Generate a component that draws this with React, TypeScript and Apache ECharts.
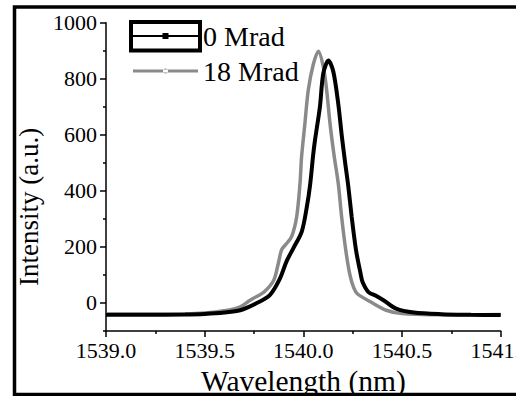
import React, { useEffect, useRef } from "react";
import * as echarts from "echarts";

const seriesNames = ["0 Mrad", "18 Mrad"];

const wl0 = [1539.0, 1539.2, 1539.4, 1539.5, 1539.6, 1539.68, 1539.76, 1539.83, 1539.88, 1539.916, 1539.949, 1539.992, 1540.017, 1540.034, 1540.05, 1540.059, 1540.084, 1540.101, 1540.127, 1540.152, 1540.177, 1540.195, 1540.211, 1540.228, 1540.245, 1540.267, 1540.29, 1540.3, 1540.33, 1540.37, 1540.41, 1540.47, 1540.56, 1540.7, 1540.85, 1541.0];
const int0 = [-42, -42, -41, -39, -34, -26, -2, 28, 85, 150, 195, 255, 340, 420, 530, 581, 700, 819, 865, 825, 710, 595, 505, 415, 307, 188, 105, 75, 39, 25, 8, -20, -34, -40, -42, -43];

const wl18 = [1539.0, 1539.2, 1539.4, 1539.5, 1539.6, 1539.68, 1539.73, 1539.8, 1539.85, 1539.873, 1539.89, 1539.91, 1539.94, 1539.966, 1539.983, 1539.991, 1540.008, 1540.025, 1540.05, 1540.076, 1540.101, 1540.118, 1540.135, 1540.155, 1540.177, 1540.194, 1540.215, 1540.236, 1540.255, 1540.275, 1540.34, 1540.42, 1540.5, 1540.65, 1540.85, 1541.0];
const int18 = [-40, -40, -39, -36, -28, -14, 10, 39, 81, 141, 190, 208, 236, 307, 426, 521, 641, 760, 850, 898, 843, 760, 641, 530, 426, 307, 188, 100, 55, 32, 4, -26, -38, -42, -42, -41];

const yLabelValues = [0, 200, 400, 600, 800, 1000];
const yMinorValues = [-100, 100, 300, 500, 700, 900];

const FONT = "'Liberation Serif', 'Times New Roman', serif";

// legend icons: a line with a marker in the middle (65 x 8 box)
const ICON_SQUARE = "path://M0,3L65,3L65,5L0,5Z M29.5,1L35.5,1L35.5,7L29.5,7Z";
const ICON_DOT = "path://M0,2.5L65,2.5L65,5.5L0,5.5Z M30,4A2.5,2.5,0,1,0,35,4A2.5,2.5,0,1,0,30,4Z M32.5,0L32.5,8";

export default function App() {
  const ref = useRef<HTMLDivElement>(null);
  useEffect(() => {
    if (!ref.current) return;
    const chart = echarts.init(ref.current, undefined, { renderer: "svg" });
    const zip = (xs: number[], ys: number[]) => xs.map((x, i) => [x, ys[i]]);
    chart.setOption({
      animation: false,
      backgroundColor: "#fff",
      textStyle: { fontFamily: FONT },
      grid: { left: 106, right: 15.3, top: 22.7, bottom: 65, containLabel: false, outerBoundsMode: "none" },
      legend: {
        orient: "vertical",
        left: 133,
        top: 22,
        padding: 0,
        itemWidth: 65,
        itemHeight: 8,
        itemGap: 7,
        textStyle: { fontFamily: FONT, fontSize: 28, color: "#000" },
        data: [
          { name: seriesNames[0], icon: ICON_SQUARE, itemStyle: { color: "#000" } },
          { name: seriesNames[1], icon: ICON_DOT, itemStyle: { color: "#8a8a8a" } },
        ],
        selectedMode: false,
      },
      xAxis: {
        type: "value",
        min: 1539,
        max: 1541,
        interval: 0.5,
        name: "Wavelength (nm)",
        nameLocation: "middle",
        nameGap: 34,
        nameTextStyle: { fontFamily: FONT, fontSize: 29.5, color: "#000" },
        axisLine: { show: true, onZero: false, lineStyle: { color: "#000", width: 1.5 } },
        axisTick: { show: true, inside: false, length: 6, lineStyle: { color: "#000", width: 1.5 } },
        minorTick: { show: true, splitNumber: 2, length: 3, lineStyle: { color: "#000", width: 1.5 } },
        axisLabel: {
          margin: 8,
          fontFamily: FONT,
          fontSize: 22,
          color: "#000",
          showMaxLabel: true,
          hideOverlap: false,
          formatter: (v: number) => v.toFixed(1),
        },
        splitLine: { show: false },
      },
      yAxis: [
        {
          type: "value",
          min: -100,
          max: 1000,
          name: "Intensity (a.u.)",
          nameLocation: "middle",
          nameGap: 58,
          nameTextStyle: { fontFamily: FONT, fontSize: 27, color: "#000", padding: [0, 60, 0, 0] },
          axisLine: { show: true, onZero: false, lineStyle: { color: "#000", width: 1.5 } },
          axisTick: { show: true, inside: false, length: 6, customValues: yLabelValues, lineStyle: { color: "#000", width: 1.5 } },
          axisLabel: {
            margin: 9,
            fontFamily: FONT,
            fontSize: 22,
            color: "#000",
            customValues: yLabelValues,
            formatter: (v: number) => String(v),
          },
          splitLine: { show: false },
        },
        {
          type: "value",
          min: -100,
          max: 1000,
          position: "left",
          axisLine: { show: false },
          axisTick: { show: true, inside: false, length: 3, customValues: yMinorValues, lineStyle: { color: "#000", width: 1.5 } },
          axisLabel: { show: false },
          splitLine: { show: false },
        },
      ],
      series: [
        {
          name: seriesNames[1],
          type: "line",
          data: zip(wl18, int18),
          symbol: "none",
          smooth: 0.3,
          z: 2,
          lineStyle: { color: "#8a8a8a", width: 3.5 },
          itemStyle: { color: "#8a8a8a" },
        },
        {
          name: seriesNames[0],
          type: "line",
          data: zip(wl0, int0),
          symbol: "none",
          smooth: 0.3,
          z: 3,
          lineStyle: { color: "#000", width: 4 },
          itemStyle: { color: "#000" },
        },
      ],
      graphic: [
        {
          type: "rect",
          shape: { x: 14.5, y: 7, width: 600, height: 387.5 },
          style: { fill: "none", stroke: "#000", lineWidth: 3.5 },
          silent: true,
          z: 100,
        },
        {
          type: "rect",
          shape: { x: 131, y: 22, width: 69, height: 28.5 },
          style: { fill: "none", stroke: "#000", lineWidth: 4 },
          silent: true,
          z: 100,
        },
      ],
    });
    return () => chart.dispose();
  }, []);
  return <div ref={ref} style={{ width: 516, height: 396, position: "absolute", left: 0, top: 0 }} />;
}
